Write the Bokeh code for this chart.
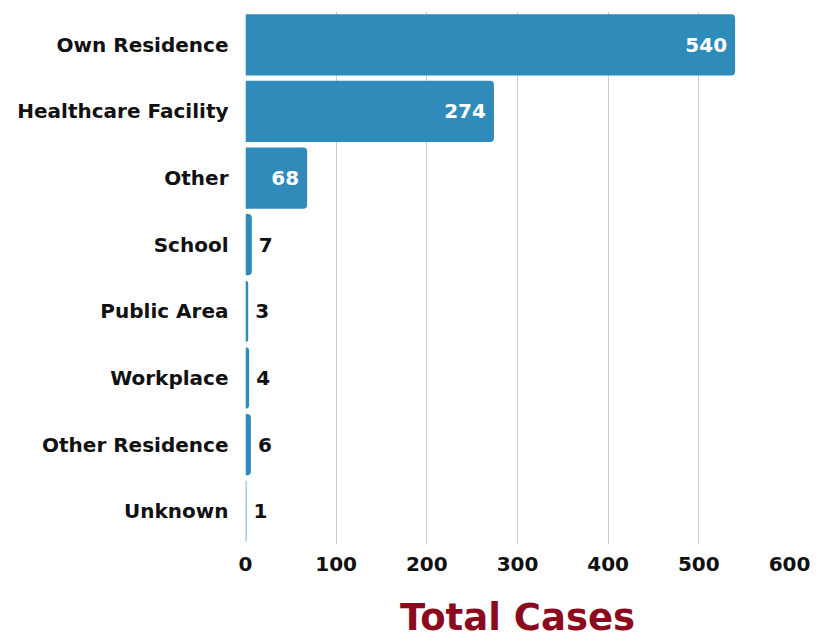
from bokeh.plotting import figure
from bokeh.models import ColumnDataSource, Range1d, FactorRange, FixedTicker
from bokeh.core.properties import value
from bokeh.embed import file_html
from bokeh.resources import INLINE

categories = ["Own Residence", "Healthcare Facility", "Other", "School",
              "Public Area", "Workplace", "Other Residence", "Unknown"]
cases = [540, 274, 68, 7, 3, 4, 6, 1]
x_ticks = [0, 100, 200, 300, 400, 500, 600]

FONT = "DejaVu Sans"
BAR = "#2e8bba"

inside = [c > 50 for c in cases]
src = ColumnDataSource(dict(
    cat=categories,
    val=cases,
    label=[str(c) for c in cases],
    color=["white" if i else "#111111" for i in inside],
    align=["right" if i else "left" for i in inside],
    xoff=[-8 if i else 7 for i in inside],
))

p = figure(width=815, height=629, output_backend="svg", toolbar_location=None,
           y_range=FactorRange(factors=list(reversed(categories)), range_padding=0),
           x_range=Range1d(0, 600),
           frame_width=544, frame_height=533,
           min_border_left=245, min_border_right=26, min_border_top=11, min_border_bottom=85)

p.hbar(y="cat", right="val", left=0, height=0.92, source=src, color=BAR,
       line_color=None, border_radius=(0, 4, 4, 0))

p.text(x="val", y="cat", text="label", source=src, text_color="color",
       text_align="align", text_baseline="middle", x_offset="xoff",
       text_font=value(FONT), text_font_style="bold", text_font_size="20px")

p.outline_line_color = None
p.ygrid.grid_line_color = None
p.xgrid.grid_line_color = "#cccccc"
p.xgrid.grid_line_width = 1
p.xaxis.ticker = FixedTicker(ticks=x_ticks)

for ax in (p.xaxis, p.yaxis):
    ax.axis_line_color = None
    ax.major_tick_line_color = None
    ax.minor_tick_line_color = None
    ax.major_label_text_font = FONT
    ax.major_label_text_font_style = "bold"
    ax.major_label_text_color = "#111111"
    ax.major_label_text_font_size = "20px"

p.yaxis.major_label_standoff = 11
p.xaxis.major_label_standoff = 6
p.xaxis.axis_label = "Total Cases"
p.xaxis.axis_label_text_font = FONT
p.xaxis.axis_label_text_font_style = "bold"
p.xaxis.axis_label_text_font_size = "37px"
p.xaxis.axis_label_text_color = "#8c0a1e"
p.xaxis.axis_label_standoff = 22

open("out.html", "w").write(file_html(p, INLINE))
